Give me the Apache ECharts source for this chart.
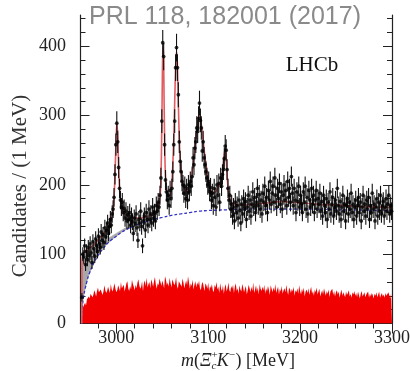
<!DOCTYPE html>
<html>
<head>
<meta charset="utf-8">
<script src="https://cdn.jsdelivr.net/npm/echarts@6/dist/echarts.min.js"></script>
<style>
html, body { margin: 0; padding: 0; background: #fff; }
#chart { width: 410px; height: 371px; }
</style>
</head>
<body>
<div id="chart"></div>
<script>
// Xi_c+ K- invariant mass spectrum, 1 MeV bins starting at 2962 MeV
const binStart = 2962;
const binWidth = 1;

// Candidates per bin (2962 ... 3299)
const candidates = [
  38, 100, 96, 112, 85, 104, 92, 110,
  98, 115, 102, 88, 118, 108, 97, 122, 112, 104,
  126, 115, 110, 132, 120, 128, 117, 138, 125, 134,
  145, 130, 140, 150, 142, 158, 165, 182, 215, 258,
  289, 262, 225, 195, 178, 168, 175, 160, 166, 152,
  162, 148, 157, 150, 160, 142, 155, 147, 130, 152,
  144, 158, 138, 120, 150, 145, 162, 140, 112, 148,
  155, 135, 160, 150, 142, 165, 150, 158, 145, 168,
  152, 160, 148, 170, 162, 175, 168, 185, 210, 292,
  405, 385, 258, 207, 190, 178, 185, 170, 192, 180,
  195, 219, 258, 292, 369, 398, 369, 330, 262, 234,
  219, 205, 200, 188, 198, 180, 195, 178, 200, 190,
  205, 198, 212, 239, 229, 253, 262, 282, 277, 296,
  318, 293, 282, 249, 262, 239, 229, 219, 210, 200,
  205, 190, 196, 178, 188, 170, 195, 182, 168, 200,
  185, 202, 175, 210, 198, 215, 222, 238, 256, 250,
  222, 195, 178, 185, 165, 172, 155, 168, 148, 175,
  160, 170, 152, 178, 163, 145, 172, 158, 180, 165,
  176, 150, 168, 185, 162, 178, 155, 172, 190, 168,
  182, 160, 175, 195, 170, 186, 165, 178, 158, 188,
  175, 198, 170, 182, 160, 192, 178, 205, 172, 188,
  198, 175, 210, 185, 168, 195, 180, 202, 172, 190,
  165, 185, 200, 178, 192, 170, 205, 182, 195, 175,
  212, 188, 170, 195, 178, 160, 190, 176, 198, 168,
  185, 172, 160, 190, 175, 198, 165, 182, 158, 192,
  178, 168, 195, 172, 185, 160, 178, 192, 165, 180,
  172, 188, 162, 176, 155, 185, 170, 160, 180, 150,
  175, 165, 190, 158, 172, 182, 155, 168, 178, 162,
  195, 170, 158, 176, 150, 168, 185, 162, 172, 148,
  170, 180, 158, 175, 165, 188, 160, 172, 150, 168,
  178, 155, 170, 182, 160, 175, 148, 168, 185, 162,
  172, 155, 178, 165, 182, 150, 170, 160, 188, 165,
  172, 148, 168, 180, 155, 175, 162, 185, 158, 170,
  176, 155, 168, 180, 162, 172, 185, 158, 170, 162
];

// Sideband histogram (same binning)
const sideband = [
  14, 21, 19, 27, 30, 26, 35, 33,
  39, 36, 43, 45, 38, 41, 48, 44, 39, 47,
  52, 45, 43, 49, 50, 41, 46, 55, 48, 44,
  47, 53, 51, 44, 57, 49, 46, 52, 58, 50,
  45, 48, 55, 53, 47, 60, 51, 49, 56, 46,
  52, 58, 61, 50, 47, 54, 49, 63, 57, 53,
  48, 56, 51, 59, 64, 55, 50, 53, 61, 47,
  58, 62, 54, 66, 52, 57, 60, 51, 64, 59,
  53, 61, 67, 56, 50, 58, 55, 65, 60, 54,
  62, 57, 51, 68, 63, 55, 59, 53, 66, 58,
  52, 64, 60, 55, 58, 67, 54, 50, 61, 63,
  56, 53, 65, 59, 51, 57, 62, 55, 68, 60,
  50, 58, 54, 63, 49, 56, 61, 52, 59, 55,
  62, 51, 48, 57, 60, 53, 47, 58, 55, 50,
  59, 46, 54, 51, 57, 48, 45, 56, 52, 60,
  49, 53, 44, 58, 50, 47, 55, 43, 52, 57,
  46, 51, 59, 48, 45, 54, 50, 56, 44, 53,
  58, 47, 51, 43, 55, 49, 46, 57, 52, 45,
  50, 54, 42, 48, 56, 51, 45, 53, 47, 59,
  44, 49, 55, 46, 52, 42, 57, 50, 47, 53,
  48, 56, 43, 51, 46, 54, 49, 41, 55, 50,
  45, 52, 47, 57, 44, 49, 53, 42, 50, 46,
  54, 43, 48, 51, 45, 56, 47, 41, 52, 49,
  44, 50, 46, 53, 40, 48, 45, 51, 43, 55,
  47, 42, 50, 45, 52, 39, 46, 49, 44, 51,
  41, 48, 53, 43, 47, 40, 49, 45, 52, 42,
  46, 50, 39, 44, 48, 42, 51, 45, 40, 47,
  43, 49, 38, 46, 44, 50, 41, 47, 39, 45,
  48, 42, 46, 37, 44, 49, 40, 45, 43, 38,
  46, 41, 44, 48, 39, 43, 37, 45, 42, 47,
  40, 44, 38, 46, 41, 36, 43, 47, 39, 42,
  45, 38, 42, 40, 46, 37, 43, 39, 44, 41,
  36, 43, 40, 45, 38, 42, 46, 37, 41, 44,
  39, 42, 37, 44, 40, 38, 45, 41, 36, 43
];

// Total fit curve
const fitMass = [
  2962.4, 2962.6, 2964, 2966, 2970, 2975, 2980, 2985, 2990, 2993, 2995, 2996, 2997, 2998, 2999,
  3000, 3000.7, 3001.5, 3002.5, 3003.5, 3004.5, 3006, 3008, 3010, 3015, 3020, 3025, 3030, 3035,
  3040, 3043, 3045, 3046.5, 3047.5, 3048.5, 3049.5, 3050.2, 3050.8, 3051.4, 3052, 3052.7, 3053.5,
  3054.5, 3056, 3058, 3059.5, 3060.5, 3061.5, 3062.5, 3063.5, 3064.5, 3065.5, 3066.3, 3067, 3068,
  3069, 3070, 3071, 3072, 3074, 3076, 3078, 3080, 3082, 3084, 3086, 3088, 3089.5, 3090.7, 3092,
  3094, 3096, 3098, 3100, 3102, 3104, 3106, 3108, 3110, 3112, 3114, 3115.5, 3116.5, 3117.5, 3118.5,
  3119.3, 3120, 3121, 3122, 3123.5, 3125, 3128, 3132, 3140, 3150, 3160, 3170, 3180, 3190, 3200,
  3220, 3240, 3260, 3280, 3300
];
const fitTotal = [
  0, 92, 100, 104, 108, 113, 120, 128, 137, 145, 153, 160, 172, 195, 235,
  275, 290, 270, 225, 193, 178, 167, 160, 157, 153, 152, 152, 153, 155,
  158, 161, 166, 172, 182, 205, 285, 370, 400, 385, 320, 250, 212,
  195, 186, 184, 190, 205, 230, 268, 318, 370, 392, 378, 345, 290,
  250, 228, 213, 204, 194, 190, 192, 200, 213, 235, 262, 285, 297, 300, 292,
  270, 245, 225, 208, 196, 190, 188, 190, 194, 199, 207, 218, 230, 245, 252,
  245, 228, 205, 190, 180, 175, 172, 171, 171, 172, 173, 175, 176, 175, 174,
  172, 171, 169, 168, 167
];

// Combinatorial background (dashed)
const bkgMass = [
  2962, 2962.5, 2963, 2964, 2966, 2968, 2970, 2975, 2980, 2985, 2990, 2995, 3000, 3005, 3010,
  3020, 3030, 3040, 3050, 3060, 3070, 3080, 3090, 3100, 3120, 3140, 3160, 3180, 3200, 3220,
  3240, 3260, 3280, 3300
];
const bkgValue = [
  0, 12, 22, 36, 50, 61, 70, 86, 98, 107, 115, 121, 126, 131, 135,
  141, 146, 150, 153, 156, 158, 160, 162, 163, 164, 165, 165, 165, 165, 165,
  164, 164, 163, 163
];

// Feed-down contribution near threshold (shaded band between base and top)
const feedMass = [2962.5, 2963, 2964, 2966, 2968, 2970, 2975, 2980, 2985, 2990, 2995, 3000, 3005, 3010, 3015, 3020, 3024];
const feedTop  = [90, 98, 100, 102, 103, 104, 107, 112, 117, 122, 126, 130, 134, 138, 140, 141, 143];
const feedBase = [12, 22, 36, 50, 61, 70, 86, 98, 107, 115, 121, 126, 131, 135, 138, 141, 143];

// Axis ticks and labels
const xRange = [2961, 3300];
const yRange = [0, 445];
const xMajor = [3000, 3100, 3200, 3300];
const yMajor = [0, 100, 200, 300, 400];
const xMinorStep = 20;
const yMinorStep = 20;

const chartTitle = 'PRL 118, 182001 (2017)';
const experiment = 'LHCb';
const yTitle = 'Candidates / (1 MeV)';

// ---- derived series data ----
const pointData = candidates.map((v, i) => [binStart + (i + 0.5) * binWidth, v]);
const sideData = sideband.map((v, i) => [binStart + i * binWidth, v]);
sideData.push([binStart + sideband.length * binWidth, sideband[sideband.length - 1]]);
const fitData = fitMass.map((m, i) => [m, fitTotal[i]]);
const bkgData = bkgMass.map((m, i) => [m, bkgValue[i]]);

function steps(lo, hi, step) {
  const out = [];
  for (let v = Math.ceil(lo / step) * step; v <= hi; v += step) out.push(v);
  return out;
}
const xMinor = steps(xRange[0], xRange[1], xMinorStep);
const yMinor = steps(yRange[0], yRange[1], yMinorStep);

const SERIF = 'Liberation Serif';
const frame = { show: true, lineStyle: { color: '#222', width: 1.2 } };

function xAxisDef(pos, ticks, len, withLine) {
  return {
    type: 'value', position: pos, min: xRange[0], max: xRange[1],
    axisLine: withLine ? frame : { show: false },
    axisTick: { show: true, inside: true, length: len, customValues: ticks, lineStyle: { color: '#222', width: 1 } },
    axisLabel: { show: false },
    splitLine: { show: false }
  };
}
function yAxisDef(pos, ticks, len, withLine) {
  return {
    type: 'value', position: pos, min: yRange[0], max: yRange[1],
    axisLine: withLine ? frame : { show: false },
    axisTick: { show: true, inside: true, length: len, customValues: ticks, lineStyle: { color: '#222', width: 1 } },
    axisLabel: { show: false },
    splitLine: { show: false }
  };
}

// Axis title m(Xi_c^+ K^-) [MeV], laid out piece by piece so the
// sub- and superscript of Xi can sit on top of each other.
function massTitle(cx, cy) {
  const ctx = document.createElement('canvas').getContext('2d');
  const pieces = [
    { t: 'm', it: true, big: true },
    { t: '(', it: false, big: true },
    { t: 'Ξ', it: true, big: true },
    { t: '+', it: false, big: false, up: true, stack: true },
    { t: 'c', it: true, big: false, down: true },
    { t: 'K', it: true, big: true },
    { t: '−', it: false, big: false, up: true },
    { t: ') [MeV]', it: false, big: true }
  ];
  const font = p => (p.it ? 'italic ' : '') + (p.big ? 18 : 11) + 'px "Liberation Serif"';
  let x = 0;
  const placed = [];
  pieces.forEach(p => {
    ctx.font = font(p);
    const w = ctx.measureText(p.t).width;
    placed.push({ p, x });
    if (!p.stack) x += w + (p.big ? 0 : 0.5);
  });
  const x0 = cx - x / 2;
  return placed.map(({ p, x }) => ({
    type: 'text', x: x0 + x, y: cy + (p.up ? -6 : p.down ? 5 : 0), z: 100,
    style: {
      text: p.t, fontFamily: SERIF, fontStyle: p.it ? 'italic' : 'normal',
      fontSize: p.big ? 18 : 11, fill: '#222', align: 'left', verticalAlign: 'middle'
    }
  }));
}

const chart = echarts.init(document.getElementById('chart'), null, { renderer: 'canvas' });

chart.setOption({
  animation: false,
  backgroundColor: '#fff',
  grid: { left: 80.5, right: 18, top: 15, bottom: 47.5, containLabel: false, outerBoundsMode: 'none' },
  xAxis: [
    xAxisDef('bottom', xMajor, 10, true),
    xAxisDef('bottom', xMinor, 5, false),
    xAxisDef('top', xMajor, 10, true),
    xAxisDef('top', xMinor, 5, false)
  ],
  yAxis: [
    yAxisDef('left', yMajor, 9, true),
    yAxisDef('left', yMinor, 5, false),
    yAxisDef('right', yMajor, 9, true),
    yAxisDef('right', yMinor, 5, false)
  ],
  series: [
    {
      name: 'sideband', type: 'line', data: sideData, step: 'end',
      showSymbol: false, symbol: 'none', z: 1,
      lineStyle: { width: 0 },
      areaStyle: { color: '#f00000', opacity: 1 }
    },
    {
      name: 'feed-down', type: 'custom', z: 2, silent: true,
      data: [0],
      renderItem(params, api) {
        const pts = [];
        feedMass.forEach((m, i) => pts.push(api.coord([m, feedTop[i]])));
        for (let i = feedMass.length - 1; i >= 0; i--) pts.push(api.coord([feedMass[i], feedBase[i]]));
        return { type: 'polygon', shape: { points: pts }, style: { fill: '#a8a8a8', stroke: '#999', lineWidth: 0.5 } };
      }
    },
    {
      name: 'background', type: 'line', data: bkgData, smooth: 0.4,
      showSymbol: false, symbol: 'none', z: 3,
      lineStyle: { color: '#3434c8', width: 1.3, type: [3, 2] }
    },
    {
      name: 'fit', type: 'line', data: fitData, smooth: 0.25,
      showSymbol: false, symbol: 'none', z: 4,
      lineStyle: { color: '#e05c60', width: 1.6 }
    },
    {
      name: 'errors', type: 'custom', data: pointData, z: 5,
      encode: { x: 0, y: 1 },
      renderItem(params, api) {
        const m = api.value(0), v = api.value(1), e = Math.sqrt(v);
        const a = api.coord([m, v - e]), b = api.coord([m, v + e]);
        return { type: 'line', shape: { x1: a[0], y1: a[1], x2: b[0], y2: b[1] }, style: { stroke: '#111', lineWidth: 1.1 } };
      }
    },
    {
      name: 'data', type: 'scatter', data: pointData, z: 6,
      symbol: 'circle', symbolSize: 3.8,
      itemStyle: { color: '#000' }
    }
  ]
});

// Tick labels in a serif face, placed through the axes' own scales
const tickLabels = [];
xMajor.forEach(v => {
  const px = chart.convertToPixel({ xAxisIndex: 0 }, v);
  tickLabels.push({
    type: 'text', x: px, y: 338, z: 100,
    style: { text: String(v), fontFamily: SERIF, fontSize: 18, fill: '#222', align: 'center', verticalAlign: 'middle' }
  });
});
yMajor.forEach(v => {
  const py = chart.convertToPixel({ yAxisIndex: 0 }, v);
  tickLabels.push({
    type: 'text', x: 66, y: py, z: 100,
    style: { text: String(v), fontFamily: SERIF, fontSize: 18, fill: '#222', align: 'right', verticalAlign: 'middle' }
  });
});

chart.setOption({
  graphic: [
    {
      type: 'text', x: 225, y: 17.5, z: 100,
      style: {
        text: chartTitle, fontFamily: 'Liberation Sans', fontSize: 25,
        fill: '#8a8a8a', align: 'center', verticalAlign: 'middle',
        backgroundColor: '#fff', padding: [0, 3]
      }
    },
    {
      type: 'text', x: 312, y: 65, z: 100,
      style: { text: experiment, fontFamily: SERIF, fontSize: 21, fill: '#111', align: 'center', verticalAlign: 'middle' }
    },
    {
      type: 'text', x: 20, y: 186, rotation: Math.PI / 2, z: 100,
      style: { text: yTitle, fontFamily: SERIF, fontSize: 21, fill: '#333', align: 'center', verticalAlign: 'middle' }
    }
  ].concat(massTitle(238, 361), tickLabels)
});
</script>
</body>
</html>
